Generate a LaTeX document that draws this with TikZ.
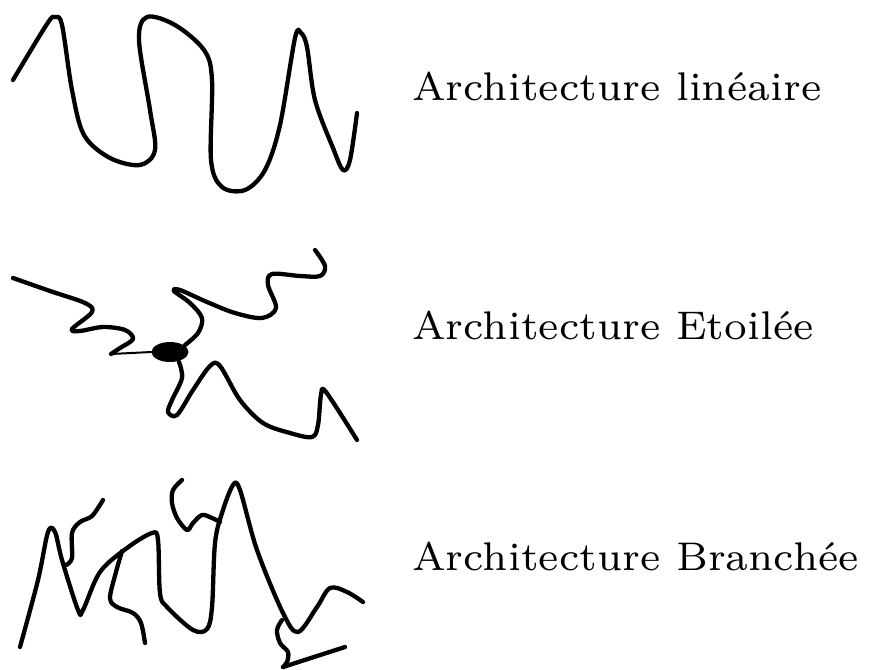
\documentclass[tikz,border=0pt]{standalone}
\usepackage{fontspec}
\usetikzlibrary{shapes.geometric}
\newfontfamily\lblfont{lmroman7-regular.otf}
\tikzset{
  chain/.style={line width=4.3pt, line cap=round, line join=round},
  link/.style={line width=2pt, line cap=round},
  lbl/.style={anchor=base west, inner sep=0pt, font=\lblfont\fontsize{40}{46}\selectfont},
  core/.style={ellipse, fill=black, inner sep=0pt, minimum width=37pt, minimum height=20pt}
}
\begin{document}
\begin{tikzpicture}[x=1pt, y=-1pt]
\useasboundingbox (0,0) rectangle (869,669);

% linear chain
\draw[chain] plot[smooth, tension=0.55] coordinates {
  (13,80) (47,24) (55,17) (62,25) (72,90) (84,135) (110,158) (140,165)
  (155,150) (150,110) (139,40) (147,17) (175,25) (204,50) (212,80)
  (211,160) (222,187) (245,190) (265,170) (280,125) (295,38) (301,33)
  (307,47) (315,100) (333,148) (343,170) (350,160) (357,113)};

% star: core with three arms
\node[core] (core) at (170,352) {};
\coordinate (a1) at (111,354);
\draw[chain] plot[smooth, tension=0.55] coordinates {
  (13,278) (50,291) (85,303) (92,312) (72,329) (80,331) (103,327)
  (125,330) (133,339) (120,348) (111,354)};
\draw[link] (a1) -- (core.west);
\draw[chain] plot[smooth, tension=0.55] coordinates {
  (185,345) (198,333) (202,318) (190,303) (174,291) (180,290) (207,302)
  (235,313) (262,318) (276,308) (268,285) (272,274) (300,276) (320,276)
  (325,266) (315,250)};
\draw[chain] plot[smooth, tension=0.55] coordinates {
  (179,362) (182,378) (172,400) (168,412) (177,415) (193,390) (210,366)
  (220,366) (240,400) (263,423) (290,433) (312,437) (318,425) (321,395)
  (326,392) (357,440)};

% branched chain: backbone
\draw[chain] plot[smooth, tension=0.55] coordinates {
  (20,647) (38,580) (48,532) (55,532) (62,560) (78,610) (83,610)
  (100,572) (127,548) (152,533) (158,540) (160,593) (167,607) (193,630)
  (207,629) (212,607) (215,543) (222,513) (233,485) (240,490) (257,550)
  (283,613) (298,632) (317,607) (330,588) (347,592) (363,602)};
% side branches
\draw[chain] plot[smooth, tension=0.55] coordinates {
  (66,565) (72,558) (72,533) (80,522) (92,516) (103,500)};
\draw[chain] plot[smooth, tension=0.55] coordinates {
  (122,551) (116,572) (110,598) (117,607) (133,613) (141,623) (145,643)};
\draw[chain] plot[smooth, tension=0.55] coordinates {
  (182,480) (173,490) (172,503) (177,518) (187,530) (193,523) (202,515)
  (212,518) (220,522)};
\draw[chain] plot[smooth, tension=0.55] coordinates {
  (282,620) (277,630) (280,643) (288,652) (287,662) (283,667)};
\draw[chain] (283,667) -- (345,647);

% labels
\node[lbl] (tl) at (412,100) {Architecture linéaire};
\node[lbl] (te) at (412,339) {Architecture Etoilée};
\node[lbl] (tb) at (412,570) {Architecture Branchée};
\end{tikzpicture}
\end{document}
